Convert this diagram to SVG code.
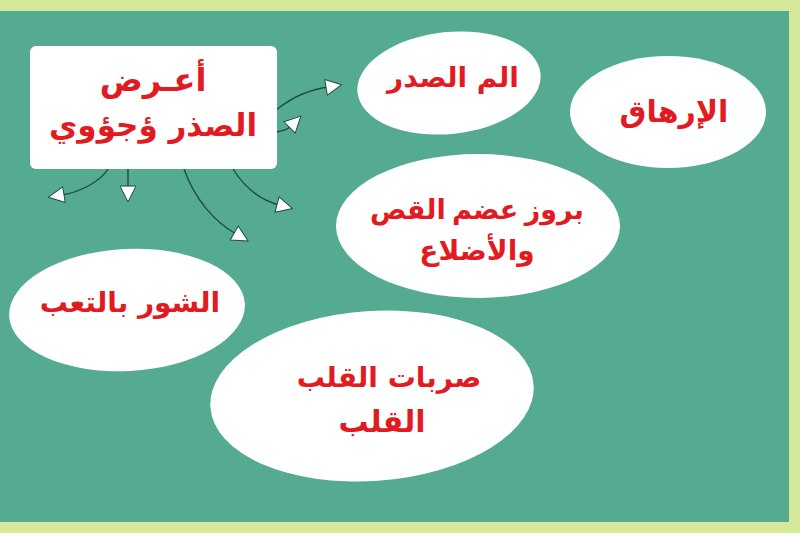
<svg xmlns="http://www.w3.org/2000/svg" width="800" height="533" viewBox="0 0 800 533">
<defs>
<style>
.bg{fill:#d6e89b}
.panel{fill:#54ab91}
.node{fill:#ffffff}
.t{font-family:"DejaVu Sans",sans-serif;font-weight:bold;fill:#e21b22;text-anchor:middle}
.conn{fill:none;stroke:#1c4d3b;stroke-width:1.4}
</style>
<marker id="arr" markerUnits="userSpaceOnUse" markerWidth="20" markerHeight="20" viewBox="-2 -2 20 20" refX="2" refY="8" orient="auto">
<path d="M0,0 L16,8 L0,16 z" fill="#ffffff" stroke="#1c4d3b" stroke-width="1" stroke-linejoin="round"/>
</marker>
</defs>
<rect class="bg" x="0" y="0" width="800" height="533"/>
<rect class="panel" x="0" y="11" width="789" height="511"/>
<g id="connectors">
<path class="conn" d="M276,110 C295,95 310,90 328,87" marker-end="url(#arr)"/>
<path class="conn" d="M276,132 C284,131 288,129 291,126" marker-end="url(#arr)"/>
<path class="conn" d="M108,169 C100,182 80,192 62,195" marker-end="url(#arr)"/>
<path class="conn" d="M128,169 L128,188" marker-end="url(#arr)"/>
<path class="conn" d="M184,169 C195,200 215,222 236,234" marker-end="url(#arr)"/>
<path class="conn" d="M233,169 C245,188 260,200 279,205" marker-end="url(#arr)"/>
</g>
<g id="main">
<rect class="node" x="30" y="46" width="247" height="123" rx="6"/>
<text class="t" x="153" y="91" font-size="32" direction="rtl">أعـرض</text>
<text class="t" x="153" y="136" font-size="31" direction="rtl">الصذر ؤجؤوي</text>
</g>
<g id="n-pain">
<ellipse class="node" cx="449" cy="83" rx="92" ry="51" transform="rotate(-6 449 83)"/>
<text class="t" x="453" y="87" font-size="28" direction="rtl">الم الصدر</text>
</g>
<g id="n-fatigue">
<ellipse class="node" cx="668" cy="112" rx="98" ry="56"/>
<text class="t" x="674" y="122" font-size="30" direction="rtl">الإرهاق</text>
</g>
<g id="n-bones">
<ellipse class="node" cx="478" cy="226" rx="142" ry="72"/>
<text class="t" x="477" y="219" font-size="27" direction="rtl" word-spacing="-3">بروز عضم القص</text>
<text class="t" x="477" y="260" font-size="28" direction="rtl">والأضلاع</text>
</g>
<g id="n-tired">
<ellipse class="node" cx="127" cy="310" rx="118" ry="61" transform="rotate(-3 127 310)"/>
<text class="t" x="130" y="312" font-size="28" direction="rtl">الشور بالتعب</text>
</g>
<g id="n-heart">
<ellipse class="node" cx="372" cy="396" rx="162" ry="85" transform="rotate(-4 372 396)"/>
<text class="t" x="389" y="387" font-size="28" direction="rtl">صربات القلب</text>
<text class="t" x="382" y="432" font-size="30" direction="rtl">القلب</text>
</g>
</svg>
